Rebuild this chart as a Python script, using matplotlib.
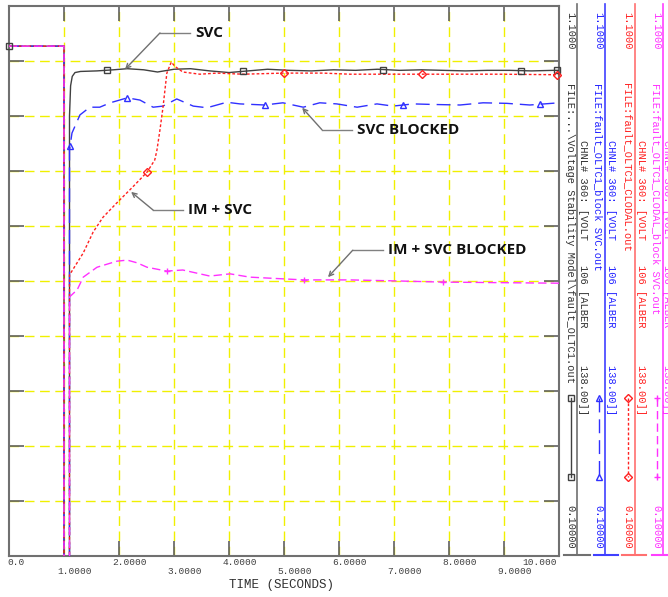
import numpy as np
import matplotlib
matplotlib.use("Agg")
import matplotlib.pyplot as plt
from matplotlib.transforms import blended_transform_factory

# ---- data ----
v_prefault = 1.027          # bus voltage before the fault (pu)
t_fault_on = 1.0
t_fault_off = 1.1

svc_t = [1.10, 1.12, 1.15, 1.20, 1.30, 1.60, 1.90, 2.15, 2.45, 2.70, 3.00, 3.30, 3.65, 4.00,
         4.35, 4.70, 5.10, 5.50, 5.90, 6.30, 6.70, 7.10, 7.50, 7.90, 8.30, 8.70, 9.10, 9.50,
         9.90, 10.0]
svc_v = [0.900, 0.955, 0.972, 0.979, 0.981, 0.982, 0.984, 0.986, 0.984, 0.980, 0.985, 0.986,
         0.982, 0.979, 0.982, 0.985, 0.983, 0.982, 0.984, 0.983, 0.985, 0.983, 0.984, 0.983,
         0.982, 0.983, 0.983, 0.982, 0.983, 0.983]

blk_t = [1.10, 1.145, 1.29, 1.47, 1.65, 1.84, 2.15, 2.38, 2.62, 2.80, 3.05, 3.35, 3.60, 3.96,
         4.20, 4.65, 4.98, 5.35, 5.65, 5.96, 6.33, 6.69, 6.98, 7.35, 7.70, 8.20, 8.62, 9.05,
         9.47, 10.0]
blk_v = [0.838, 0.869, 0.902, 0.916, 0.916, 0.924, 0.933, 0.929, 0.916, 0.918, 0.931, 0.918,
         0.915, 0.925, 0.922, 0.920, 0.924, 0.916, 0.924, 0.922, 0.916, 0.922, 0.918, 0.922,
         0.921, 0.920, 0.924, 0.923, 0.920, 0.924]

im_t = [1.10, 1.35, 1.53, 1.71, 1.96, 2.25, 2.51, 2.65, 2.69, 2.745, 2.80, 2.87, 2.95, 3.02,
        3.16, 3.47, 3.78, 4.25, 5.00, 5.71, 6.20, 6.80, 7.51, 8.00, 8.93, 10.0]
im_v = [0.611, 0.651, 0.689, 0.716, 0.742, 0.771, 0.798, 0.820, 0.838, 0.875, 0.916, 0.978,
        0.998, 0.990, 0.980, 0.976, 0.978, 0.976, 0.978, 0.978, 0.976, 0.976, 0.976, 0.976,
        0.976, 0.975]

imb_t = [1.10, 1.24, 1.35, 1.60, 1.96, 2.15, 2.33, 2.51, 2.87, 3.16, 3.65, 4.02, 4.38, 5.36,
         6.20, 7.10, 7.89, 8.93, 10.0]
imb_v = [0.571, 0.584, 0.607, 0.625, 0.636, 0.638, 0.633, 0.625, 0.618, 0.620, 0.609, 0.613,
         0.607, 0.602, 0.602, 0.600, 0.598, 0.597, 0.596]

# marker times for each trace
svc_mk = [0.0, 1.78, 4.25, 6.80, 9.30, 9.97]
blk_mk = [1.11, 2.15, 4.65, 7.16, 9.65]
im_mk = [2.51, 5.00, 7.51, 9.97]
imb_mk = [2.87, 5.36, 7.89]

x_ticks = [0, 1, 2, 3, 4, 5, 6, 7, 8, 9, 10]
x_labels = ["0.0", "1.0000", "2.0000", "3.0000", "4.0000", "5.0000", "6.0000", "7.0000",
            "8.0000", "9.0000", "10.000"]

files = ["FILE:...\\Voltage Stability Model\\fault_OLTC1.out",
         "FILE:fault_OLTC1_block SVC.out",
         "FILE:fault_OLTC1_CLODAL.out",
         "FILE:fault_OLTC1_CLODAL_block SVC.out"]
chnl = "CHNL# 360: [VOLT    106 [ALBER      138.00]]"

notes = ["SVC", "SVC BLOCKED", "IM + SVC", "IM + SVC BLOCKED"]
note_tip = [(2.11, 0.985), (5.33, 0.915), (2.22, 0.762), (5.80, 0.607)]
note_elbow = [(2.745, 1.051), (5.69, 0.875), (2.62, 0.729), (6.25, 0.656)]
note_text = [(3.38, 1.051), (6.33, 0.875), (3.25, 0.729), (6.89, 0.656)]


def full(t, v):
    tt = [0.0, t_fault_on, t_fault_on, t_fault_off] + list(t)
    vv = [v_prefault, v_prefault, 0.0, 0.0] + list(v)
    return tt, vv


mono = "Liberation Mono"
fig = plt.figure(figsize=(6.68, 5.97), dpi=100)
fig.patch.set_facecolor("white")
ax = fig.add_axes([9 / 668, 41 / 597, 550 / 668, 550 / 597])
ax.set_xlim(0, 10)
ax.set_ylim(0.1, 1.1)
ax.set_xticks(x_ticks[1:-1])
ax.set_yticks(np.arange(0.2, 1.01, 0.1))
ax.grid(True, color="#f0f000", linestyle=(0, (7, 4)), linewidth=1.0)
ax.tick_params(direction="in", length=11, width=1.2, color="#606060",
               top=True, right=True, labelbottom=False, labelleft=False)
for s in ax.spines.values():
    s.set_color("#707070")
    s.set_linewidth(1.5)

traces = [
    (svc_t, svc_v, svc_mk, "#404040", "-", "s"),
    (blk_t, blk_v, blk_mk, "#3030ff", (0, (10, 5)), "^"),
    (im_t, im_v, im_mk, "#ff2020", (0, (2, 1.5)), "D"),
    (imb_t, imb_v, imb_mk, "#ff30ff", (0, (6, 3)), "+"),
]
for t, v, mk, col, ls, m in traces:
    tt, vv = full(t, v)
    ax.plot(tt, vv, color=col, linestyle=ls, linewidth=1.0, zorder=3)
    ax.plot(mk, np.interp(mk, tt, vv), linestyle="none", marker=m, color=col,
            markersize=4, markerfacecolor="none" if m in "s^D" else col,
            markeredgewidth=1.0, zorder=4, clip_on=False)

# x tick labels, staggered on two rows
tr = blended_transform_factory(ax.transData, ax.transAxes)
for i, (t, lab) in enumerate(zip(x_ticks, x_labels)):
    y = -0.0127 if i % 2 == 0 else -0.029
    if i == 0:
        ax.text(t - 0.03, y, lab, ha="left", va="center", transform=tr, family=mono,
                fontsize=6.8, color="#404040")
    elif i == len(x_ticks) - 1:
        ax.text(t - 0.04, y, lab, ha="right", va="center", transform=tr, family=mono,
                fontsize=6.8, color="#404040")
    else:
        ax.text(t - 0.12, y, lab, ha="left", va="center", transform=tr, family=mono,
                fontsize=6.8, color="#404040")
ax.text(0.495, -0.0527, "TIME (SECONDS)", ha="center", va="center", transform=ax.transAxes,
        family=mono, fontsize=9, color="#303030")

# annotations
for lab, tip, elb, txt in zip(notes, note_tip, note_elbow, note_text):
    ax.plot([elb[0], txt[0] - 0.09], [elb[1], elb[1]], color="#808080", linewidth=1.0, zorder=5)
    ax.annotate("", xy=tip, xytext=elb,
                arrowprops=dict(arrowstyle="->", color="#707070", lw=1.0,
                                shrinkA=0, shrinkB=0, mutation_scale=8), zorder=5)
    ax.text(txt[0], txt[1], lab, ha="left", va="center", family="Open Sans",
            fontweight="bold", fontsize=11, color="#111111", zorder=6)

# right-hand channel panel (pixel coordinates)
side = fig.add_axes([559 / 668, 0, 109 / 668, 1])
side.set_xlim(559, 668)
side.set_ylim(597, 0)
side.axis("off")
cols = [
    (570, 577, 583, 564, 590, "#303030", "#707070", "#404040", "-", "s"),
    (598, 605, 611, 594, 618, "#2020ff", "#4040ff", "#3030ff", (0, (10, 5)), "^"),
    (627, 635, 641, 622, 646, "#ff2020", "#ff7070", "#ff2020", (0, (2, 1.5)), "D"),
    (656, 663, 667, 652, 676, "#ff30ff", "#ff40ff", "#ff30ff", (0, (6, 3)), "+"),
]
for (xa, xl, xb, b0, b1, tc, lc, sc, ls, m), fname in zip(cols, files):
    side.plot([xl, xl], [4, 555], color=lc, linewidth=1.2, clip_on=False)
    side.plot([b0, b1], [555, 555], color=lc, linewidth=1.5, clip_on=False)
    kw = dict(rotation=-90, rotation_mode="anchor", ha="left", va="center",
              family=mono, fontsize=7.5, color=tc)
    side.text(xa, 12, "1.1000", **kw)
    side.text(xa, 83, fname, **kw)
    side.text(xb, 140, chnl, **kw)
    side.text(xa, 505, "0.10000", **kw)
    side.plot([xa + 1, xa + 1], [398, 477], color=sc, linestyle=ls, linewidth=1.0)
    side.plot([xa + 1, xa + 1], [398, 477], linestyle="none", marker=m, color=sc,
              markersize=4, markerfacecolor="none" if m in "s^D" else sc)

fig.savefig("out.png", dpi=100)
